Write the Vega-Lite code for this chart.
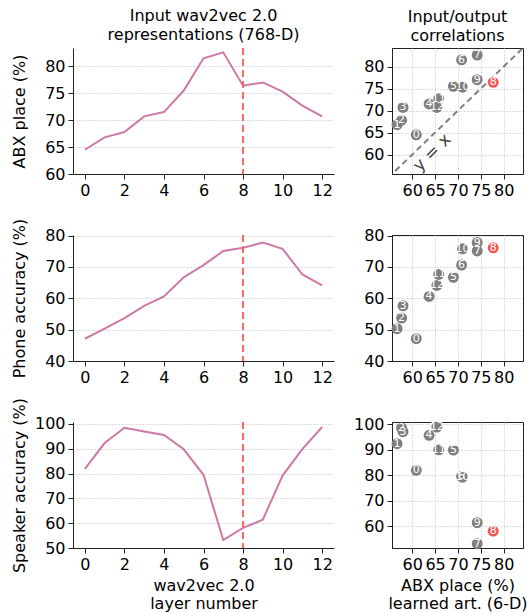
{
  "$schema": "https://vega.github.io/schema/vega-lite/v6.json",
  "padding": {"left": 10, "top": 8, "right": 2, "bottom": 2},
  "background": "white",
  "config": {
    "font": "DejaVu Sans",
    "axis": {"labelFont": "DejaVu Sans", "labelFontSize": 16, "labelColor": "#000", "titleFont": "DejaVu Sans", "titleFontSize": 16, "titleFontWeight": "normal", "titleColor": "#000", "domainColor": "#222", "tickColor": "#222", "tickSize": 5, "gridColor": "#bbbbbb", "gridDash": [1, 2], "labelPadding": 3, "titlePadding": 5, "labelFlush": false, "labelOverlap": false},
    "axisLeft": {"titleX": -54, "titleBaseline": "middle"},
    "title": {"font": "DejaVu Sans", "fontSize": 16, "fontWeight": "normal", "color": "#000", "lineHeight": 19, "frame": "group", "offset": 4},
    "view": {"stroke": null}
  },
  "datasets": {
    "layers": [
      {"layer": 0, "abx_input": 64.5, "phone": 47.1, "speaker": 81.9, "abx_art": 60.9},
      {"layer": 1, "abx_input": 66.8, "phone": 50.3, "speaker": 92.3, "abx_art": 56.7},
      {"layer": 2, "abx_input": 67.8, "phone": 53.7, "speaker": 98.5, "abx_art": 57.7},
      {"layer": 3, "abx_input": 70.7, "phone": 57.6, "speaker": 97.0, "abx_art": 58.0},
      {"layer": 4, "abx_input": 71.5, "phone": 60.6, "speaker": 95.6, "abx_art": 63.7},
      {"layer": 5, "abx_input": 75.5, "phone": 66.7, "speaker": 89.8, "abx_art": 69.0},
      {"layer": 6, "abx_input": 81.5, "phone": 70.6, "speaker": 79.5, "abx_art": 70.8},
      {"layer": 7, "abx_input": 82.6, "phone": 75.1, "speaker": 53.2, "abx_art": 74.2},
      {"layer": 8, "abx_input": 76.4, "phone": 76.1, "speaker": 58.1, "abx_art": 77.7},
      {"layer": 9, "abx_input": 77.0, "phone": 77.8, "speaker": 61.4, "abx_art": 74.2},
      {"layer": 10, "abx_input": 75.3, "phone": 75.8, "speaker": 79.2, "abx_art": 71.0},
      {"layer": 11, "abx_input": 72.7, "phone": 67.6, "speaker": 89.9, "abx_art": 65.8},
      {"layer": 12, "abx_input": 70.7, "phone": 64.1, "speaker": 98.8, "abx_art": 65.4}
    ],
    "selected": [{"selected_layer": 8}],
    "identity": [{"v": 50}, {"v": 90}],
    "note": [{"label": "y = x", "x": 64.4, "y": 60.4}]
  },
  "columns": 2,
  "bounds": "flush",
  "spacing": {"row": 61, "column": 58},
  "concat": [
    {
      "width": 261, "height": 126,
      "title": {"text": ["Input wav2vec 2.0", "representations (768-D)"]},
      "layer": [
        {"data": {"name": "layers"}, "mark": {"type": "line", "color": "#cc79a7", "strokeWidth": 2},
         "encoding": {
           "x": {"field": "layer", "type": "quantitative", "scale": {"domain": [-0.6, 12.6], "nice": false, "zero": false}, "axis": {"values": [0, 2, 4, 6, 8, 10, 12], "title": null, "grid": false, "labelOverlap": false}},
           "y": {"field": "abx_input", "type": "quantitative", "scale": {"domain": [60, 83.4], "nice": false, "zero": false}, "axis": {"values": [60, 65, 70, 75, 80], "title": "ABX place (%)", "grid": true, "labelOverlap": false}}
         }},
        {"data": {"name": "selected"}, "mark": {"type": "rule", "color": "#ff6666", "strokeWidth": 2, "strokeDash": [7, 4]},
         "encoding": {"x": {"field": "selected_layer", "type": "quantitative", "scale": {"domain": [-0.6, 12.6], "nice": false, "zero": false}, "axis": {"values": [0, 2, 4, 6, 8, 10, 12], "title": null, "grid": false, "labelOverlap": false}}}}
      ]
    },
    {
      "width": 131, "height": 126,
      "title": {"text": ["Input/output", "correlations"]},
      "view": {"stroke": "#222"},
      "layer": [
        {"data": {"name": "identity"}, "mark": {"type": "line", "color": "#808080", "strokeWidth": 2, "strokeDash": [6, 4], "clip": true},
         "encoding": {
           "x": {"field": "v", "type": "quantitative", "scale": {"domain": [55.6, 84.2], "nice": false, "zero": false}, "axis": {"values": [60, 65, 70, 75, 80], "title": null, "grid": true, "labelOverlap": false}},
           "y": {"field": "v", "type": "quantitative", "scale": {"domain": [55.6, 84.2], "nice": false, "zero": false}, "axis": {"values": [60, 65, 70, 75, 80], "title": null, "grid": true, "labelOverlap": false}}
         }},
        {"data": {"name": "note"}, "mark": {"type": "text", "angle": 315, "fontSize": 17, "color": "#404040", "align": "center", "baseline": "middle"},
         "encoding": {
           "x": {"field": "x", "type": "quantitative", "scale": {"domain": [55.6, 84.2], "nice": false, "zero": false}, "axis": {"values": [60, 65, 70, 75, 80], "title": null, "grid": true, "labelOverlap": false}},
           "y": {"field": "y", "type": "quantitative", "scale": {"domain": [55.6, 84.2], "nice": false, "zero": false}, "axis": {"values": [60, 65, 70, 75, 80], "title": null, "grid": true, "labelOverlap": false}},
           "text": {"field": "label"}
         }},
        {"data": {"name": "layers"}, "mark": {"type": "circle", "size": 120, "opacity": 1},
         "encoding": {
           "x": {"field": "abx_art", "type": "quantitative", "scale": {"domain": [55.6, 84.2], "nice": false, "zero": false}, "axis": {"values": [60, 65, 70, 75, 80], "title": null, "grid": true, "labelOverlap": false}},
           "y": {"field": "abx_input", "type": "quantitative", "scale": {"domain": [55.6, 84.2], "nice": false, "zero": false}, "axis": {"values": [60, 65, 70, 75, 80], "title": null, "grid": true, "labelOverlap": false}},
           "color": {"condition": {"test": "datum.layer === 8", "value": "#f75454"}, "value": "#7f7f7f"}
         }},
        {"data": {"name": "layers"}, "mark": {"type": "text", "color": "white", "fontSize": 11},
         "encoding": {
           "x": {"field": "abx_art", "type": "quantitative", "scale": {"domain": [55.6, 84.2], "nice": false, "zero": false}, "axis": {"values": [60, 65, 70, 75, 80], "title": null, "grid": true, "labelOverlap": false}},
           "y": {"field": "abx_input", "type": "quantitative", "scale": {"domain": [55.6, 84.2], "nice": false, "zero": false}, "axis": {"values": [60, 65, 70, 75, 80], "title": null, "grid": true, "labelOverlap": false}},
           "text": {"field": "layer"}
         }}
      ]
    },
    {
      "width": 261, "height": 126,
      "layer": [
        {"data": {"name": "layers"}, "mark": {"type": "line", "color": "#cc79a7", "strokeWidth": 2},
         "encoding": {
           "x": {"field": "layer", "type": "quantitative", "scale": {"domain": [-0.6, 12.6], "nice": false, "zero": false}, "axis": {"values": [0, 2, 4, 6, 8, 10, 12], "title": null, "grid": false, "labelOverlap": false}},
           "y": {"field": "phone", "type": "quantitative", "scale": {"domain": [40, 80.2], "nice": false, "zero": false}, "axis": {"values": [40, 50, 60, 70, 80], "title": "Phone accuracy (%)", "grid": true, "labelOverlap": false}}
         }},
        {"data": {"name": "selected"}, "mark": {"type": "rule", "color": "#ff6666", "strokeWidth": 2, "strokeDash": [7, 4]},
         "encoding": {"x": {"field": "selected_layer", "type": "quantitative", "scale": {"domain": [-0.6, 12.6], "nice": false, "zero": false}, "axis": {"values": [0, 2, 4, 6, 8, 10, 12], "title": null, "grid": false, "labelOverlap": false}}}}
      ]
    },
    {
      "width": 131, "height": 126,
      "view": {"stroke": "#222"},
      "encoding": {
        "x": {"field": "abx_art", "type": "quantitative", "scale": {"domain": [55.6, 84.2], "nice": false, "zero": false}, "axis": {"values": [60, 65, 70, 75, 80], "title": null, "grid": true, "labelOverlap": false}},
        "y": {"field": "phone", "type": "quantitative", "scale": {"domain": [40, 80.2], "nice": false, "zero": false}, "axis": {"values": [40, 50, 60, 70, 80], "title": null, "grid": true, "labelOverlap": false}}
      },
      "layer": [
        {"data": {"name": "layers"}, "mark": {"type": "circle", "size": 120, "opacity": 1},
         "encoding": {
           "color": {"condition": {"test": "datum.layer === 8", "value": "#f75454"}, "value": "#7f7f7f"}
         }},
        {"data": {"name": "layers"}, "mark": {"type": "text", "color": "white", "fontSize": 11},
         "encoding": {
           "text": {"field": "layer"}
         }}
      ]
    },
    {
      "width": 261, "height": 126,
      "layer": [
        {"data": {"name": "layers"}, "mark": {"type": "line", "color": "#cc79a7", "strokeWidth": 2},
         "encoding": {
           "x": {"field": "layer", "type": "quantitative", "scale": {"domain": [-0.6, 12.6], "nice": false, "zero": false}, "axis": {"values": [0, 2, 4, 6, 8, 10, 12], "title": ["wav2vec 2.0", "layer number"], "grid": false, "labelOverlap": false}},
           "y": {"field": "speaker", "type": "quantitative", "scale": {"domain": [50, 100.8], "nice": false, "zero": false}, "axis": {"values": [50, 60, 70, 80, 90, 100], "title": "Speaker accuracy (%)", "grid": true, "labelOverlap": false}}
         }},
        {"data": {"name": "selected"}, "mark": {"type": "rule", "color": "#ff6666", "strokeWidth": 2, "strokeDash": [7, 4]},
         "encoding": {"x": {"field": "selected_layer", "type": "quantitative", "scale": {"domain": [-0.6, 12.6], "nice": false, "zero": false}, "axis": {"values": [0, 2, 4, 6, 8, 10, 12], "title": ["wav2vec 2.0", "layer number"], "grid": false, "labelOverlap": false}}}}
      ]
    },
    {
      "width": 131, "height": 126,
      "view": {"stroke": "#222"},
      "encoding": {
        "x": {"field": "abx_art", "type": "quantitative", "scale": {"domain": [55.6, 84.2], "nice": false, "zero": false}, "axis": {"values": [60, 65, 70, 75, 80], "title": ["ABX place (%)", "learned art. (6-D)"], "grid": true, "labelOverlap": false}},
        "y": {"field": "speaker", "type": "quantitative", "scale": {"domain": [51.5, 100.8], "nice": false, "zero": false}, "axis": {"values": [60, 70, 80, 90, 100], "title": null, "grid": true, "labelOverlap": false}}
      },
      "layer": [
        {"data": {"name": "layers"}, "mark": {"type": "circle", "size": 120, "opacity": 1},
         "encoding": {
           "color": {"condition": {"test": "datum.layer === 8", "value": "#f75454"}, "value": "#7f7f7f"}
         }},
        {"data": {"name": "layers"}, "mark": {"type": "text", "color": "white", "fontSize": 11},
         "encoding": {
           "text": {"field": "layer"}
         }}
      ]
    }
  ]
}
